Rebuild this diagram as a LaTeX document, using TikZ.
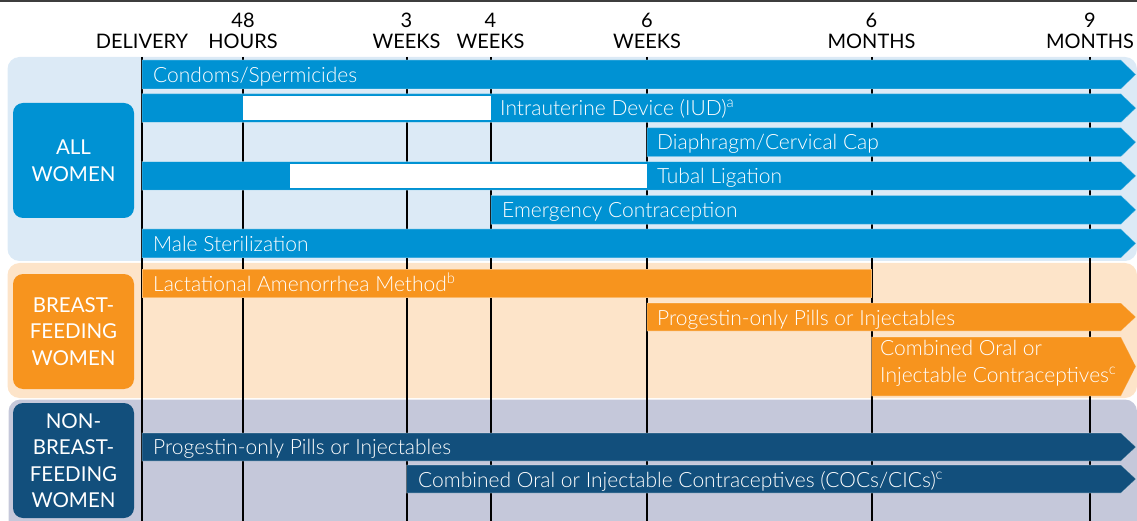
\documentclass[tikz,border=0pt]{standalone}
\usepackage{fontspec}
\setmainfont{Lato}
\newfontfamily\thinfont{Lato Light}

\definecolor{cblue}{HTML}{0092D3}
\definecolor{cbluebg}{HTML}{DCEAF6}
\definecolor{corange}{HTML}{F7941E}
\definecolor{corangebg}{HTML}{FDE4C9}
\definecolor{cnavy}{HTML}{124F7C}
\definecolor{cnavybg}{HTML}{C5C8DA}
\definecolor{ctopline}{HTML}{3E3E3E}

% bar from a start x to the arrow tip at the right edge
\newcommand\tlbar[4]{%
  \fill[#4, draw=white, draw opacity=0.35, line width=0.8pt]
    (#1,#2) -- (1121,#2) -- (1136,{(#2+#3)/2}) -- (1121,#3) -- (#1,#3) -- cycle;}

\begin{document}
\begin{tikzpicture}[x=1pt, y=-1pt,
    panel/.style={rounded corners=12pt},
    timeline/.style={line width=2pt, black},
    head/.style={font=\fontsize{20}{24}\selectfont, anchor=base, inner sep=0pt, text=black},
    bartext/.style={font=\thinfont\fontsize{21}{24}\selectfont, text=white, anchor=base west, inner sep=0pt},
    group/.style={rounded corners=10pt, text=white, align=center, inner sep=0pt,
      minimum width=121pt, minimum height=115pt,
      font=\fontsize{20.5}{26.5}\selectfont}]
\useasboundingbox (0,0) rectangle (1137,521);

% rule along the top edge
\fill[ctopline] (0,0) rectangle (1137,2.5);

% group panels
\fill[cbluebg, panel] (7.5,57) rectangle (1137,261);
\fill[corangebg, panel] (7.5,263) rectangle (1137,398);
\fill[cnavybg, panel] (8.5,399.5) rectangle (1137,545);

% time axis: headings and vertical lines
\foreach \x/\nm/\top/\bot in {142/del/{}/DELIVERY, 243/hrs/48/HOURS,
    406.5/wk3/3/WEEKS, 490.5/wk4/4/WEEKS, 647/wk6/6/WEEKS,
    871.5/mo6/6/MONTHS, 1090/mo9/9/MONTHS}{
  \coordinate (\nm) at (\x,57);
  \node[head] (\nm-t) at (\x,27.5) {\top};
  \node[head] (\nm-b) at (\x,48.5) {\bot};
  \draw[timeline] (\nm) -- (\x,521);
}

% all women
\tlbar{142}{60}{89}{cblue}
\tlbar{142}{93.7}{122.5}{cblue}
\fill[white] (243,96.5) rectangle (491,120);
\tlbar{647}{127.7}{156.7}{cblue}
\tlbar{142}{161.6}{190.2}{cblue}
\fill[white] (290,164.2) rectangle (647,187.7);
\tlbar{491}{195.4}{224.3}{cblue}
\tlbar{142}{229}{257.8}{cblue}

\node[bartext] (condoms) at (153,83) {Condoms/Spermicides};
\node[bartext] (iud) at (500,115.5) {Intrauterine Device (IUD)\textsuperscript{a}};
\node[bartext] (diaphragm) at (657,150) {Diaphragm/Cervical Cap};
\node[bartext] (tubal) at (657,184) {Tubal Ligation};
\node[bartext] (emergency) at (502,218) {Emergency Contraception};
\node[bartext] (male) at (153,251.5) {Male Sterilization};

% breastfeeding women
\fill[corange, draw=white, draw opacity=0.35, line width=0.8pt] (142,269.5) rectangle (871.5,297.5);
\tlbar{647}{303}{331}{corange}
\tlbar{871.5}{337}{396}{corange}

\node[bartext] (lam) at (153,291.5) {Lactational Amenorrhea Method\textsuperscript{b}};
\node[bartext] (pop-bf) at (657,325) {Progestin-only Pills or Injectables};
\node[bartext, align=left, anchor=north west, font=\thinfont\fontsize{21}{26.5}\selectfont]
  (coc-bf) at (880,340.5) {Combined Oral or\\Injectable Contraceptives\textsuperscript{c}};

% non-breastfeeding women
\tlbar{142}{433}{461}{cnavy}
\tlbar{406.5}{465}{493}{cnavy}

\node[bartext] (pop-nbf) at (153,454.5) {Progestin-only Pills or Injectables};
\node[bartext] (coc-nbf) at (418,487) {Combined Oral or Injectable Contraceptives (COCs/CICs)\textsuperscript{c}};

% group labels
\node[group, fill=cblue] (all) at (73.5,160.5) {ALL\\WOMEN};
\node[group, fill=corange] (bf) at (73.5,331.5) {BREAST-\\FEEDING\\WOMEN};
\node[group, fill=cnavy] (nbf) at (73.5,460.5) {NON-\\BREAST-\\FEEDING\\WOMEN};
\end{tikzpicture}
\end{document}
